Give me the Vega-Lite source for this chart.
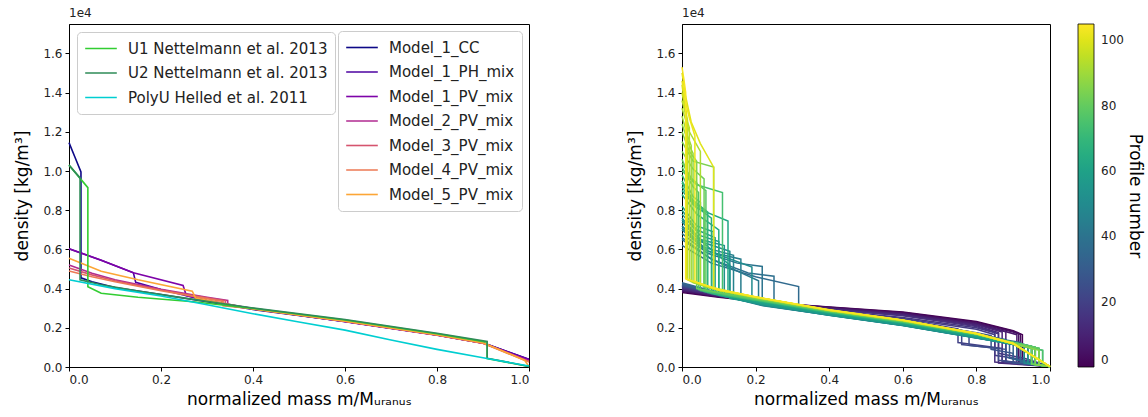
{
"$schema": "https://vega.github.io/schema/vega-lite/v6.json",
"padding": {"left": 12, "top": 6, "right": 2, "bottom": 5},
"config": {
  "font": "DejaVu Sans",
  "view": {"stroke": "black", "strokeWidth": 1},
  "axis": {"grid": false, "domainColor": "black", "tickColor": "black", "labelColor": "#222222", "labelFontSize": 12, "titleFontSize": 17, "titleFontWeight": "normal", "titleColor": "black", "tickSize": 4, "labelPadding": 3},
  "axisY": {"minExtent": 30, "maxExtent": 30, "titlePadding": 8},
  "title": {"fontSize": 12, "fontWeight": "normal", "anchor": "start", "frame": "group", "offset": 4, "color": "#222222"},
  "line": {"strokeWidth": 1.6, "clip": true}
},
"datasets": {
"models": [
{"s":"Model_1_CC","m":0,"d":11450},{"s":"Model_1_CC","m":0.013,"d":10700},{"s":"Model_1_CC","m":0.026,"d":9950},{"s":"Model_1_CC","m":0.026,"d":4550},{"s":"Model_1_CC","m":0.05,"d":4350},{"s":"Model_1_CC","m":0.1,"d":4050},{"s":"Model_1_CC","m":0.2,"d":3700},{"s":"Model_1_CC","m":0.3,"d":3330},{"s":"Model_1_CC","m":0.4,"d":2930},{"s":"Model_1_CC","m":0.6,"d":2330},{"s":"Model_1_CC","m":0.8,"d":1640},{"s":"Model_1_CC","m":0.9,"d":1230},{"s":"Model_1_CC","m":1,"d":380},
{"s":"Model_1_PH_mix","m":0,"d":6030},{"s":"Model_1_PH_mix","m":0.07,"d":5450},{"s":"Model_1_PH_mix","m":0.14,"d":4810},{"s":"Model_1_PH_mix","m":0.145,"d":4320},{"s":"Model_1_PH_mix","m":0.2,"d":3950},{"s":"Model_1_PH_mix","m":0.3,"d":3380},{"s":"Model_1_PH_mix","m":0.4,"d":2960},{"s":"Model_1_PH_mix","m":0.6,"d":2320},{"s":"Model_1_PH_mix","m":0.8,"d":1630},{"s":"Model_1_PH_mix","m":0.9,"d":1220},{"s":"Model_1_PH_mix","m":1,"d":390},
{"s":"Model_1_PV_mix","m":0,"d":6030},{"s":"Model_1_PV_mix","m":0.07,"d":5450},{"s":"Model_1_PV_mix","m":0.14,"d":4810},{"s":"Model_1_PV_mix","m":0.248,"d":4160},{"s":"Model_1_PV_mix","m":0.255,"d":3650},{"s":"Model_1_PV_mix","m":0.3,"d":3400},{"s":"Model_1_PV_mix","m":0.4,"d":2970},{"s":"Model_1_PV_mix","m":0.6,"d":2310},{"s":"Model_1_PV_mix","m":0.8,"d":1620},{"s":"Model_1_PV_mix","m":0.9,"d":1210},{"s":"Model_1_PV_mix","m":1,"d":370},
{"s":"Model_2_PV_mix","m":0,"d":5200},{"s":"Model_2_PV_mix","m":0.05,"d":4780},{"s":"Model_2_PV_mix","m":0.1,"d":4450},{"s":"Model_2_PV_mix","m":0.2,"d":3960},{"s":"Model_2_PV_mix","m":0.3,"d":3560},{"s":"Model_2_PV_mix","m":0.345,"d":3400},{"s":"Model_2_PV_mix","m":0.345,"d":3170},{"s":"Model_2_PV_mix","m":0.4,"d":2990},{"s":"Model_2_PV_mix","m":0.6,"d":2350},{"s":"Model_2_PV_mix","m":0.8,"d":1650},{"s":"Model_2_PV_mix","m":0.9,"d":1230},{"s":"Model_2_PV_mix","m":1,"d":300},
{"s":"Model_3_PV_mix","m":0,"d":5050},{"s":"Model_3_PV_mix","m":0.05,"d":4700},{"s":"Model_3_PV_mix","m":0.1,"d":4400},{"s":"Model_3_PV_mix","m":0.2,"d":3930},{"s":"Model_3_PV_mix","m":0.3,"d":3530},{"s":"Model_3_PV_mix","m":0.34,"d":3380},{"s":"Model_3_PV_mix","m":0.34,"d":3150},{"s":"Model_3_PV_mix","m":0.4,"d":2980},{"s":"Model_3_PV_mix","m":0.6,"d":2340},{"s":"Model_3_PV_mix","m":0.8,"d":1640},{"s":"Model_3_PV_mix","m":0.9,"d":1220},{"s":"Model_3_PV_mix","m":1,"d":280},
{"s":"Model_4_PV_mix","m":0,"d":4900},{"s":"Model_4_PV_mix","m":0.05,"d":4600},{"s":"Model_4_PV_mix","m":0.1,"d":4350},{"s":"Model_4_PV_mix","m":0.2,"d":3890},{"s":"Model_4_PV_mix","m":0.3,"d":3490},{"s":"Model_4_PV_mix","m":0.335,"d":3350},{"s":"Model_4_PV_mix","m":0.335,"d":3120},{"s":"Model_4_PV_mix","m":0.4,"d":2970},{"s":"Model_4_PV_mix","m":0.6,"d":2330},{"s":"Model_4_PV_mix","m":0.8,"d":1630},{"s":"Model_4_PV_mix","m":0.9,"d":1210},{"s":"Model_4_PV_mix","m":1,"d":250},
{"s":"Model_5_PV_mix","m":0,"d":5550},{"s":"Model_5_PV_mix","m":0.07,"d":4890},{"s":"Model_5_PV_mix","m":0.15,"d":4450},{"s":"Model_5_PV_mix","m":0.268,"d":3870},{"s":"Model_5_PV_mix","m":0.275,"d":3520},{"s":"Model_5_PV_mix","m":0.3,"d":3400},{"s":"Model_5_PV_mix","m":0.4,"d":2960},{"s":"Model_5_PV_mix","m":0.6,"d":2340},{"s":"Model_5_PV_mix","m":0.8,"d":1650},{"s":"Model_5_PV_mix","m":0.9,"d":1240},{"s":"Model_5_PV_mix","m":0.99,"d":350},{"s":"Model_5_PV_mix","m":1,"d":30}
],
"refs": [
{"s":"U1 Nettelmann et al. 2013","m":0,"d":10300},{"s":"U1 Nettelmann et al. 2013","m":0.041,"d":9150},{"s":"U1 Nettelmann et al. 2013","m":0.041,"d":4100},{"s":"U1 Nettelmann et al. 2013","m":0.07,"d":3760},{"s":"U1 Nettelmann et al. 2013","m":0.15,"d":3560},{"s":"U1 Nettelmann et al. 2013","m":0.27,"d":3330},{"s":"U1 Nettelmann et al. 2013","m":0.4,"d":2990},{"s":"U1 Nettelmann et al. 2013","m":0.6,"d":2400},{"s":"U1 Nettelmann et al. 2013","m":0.8,"d":1700},{"s":"U1 Nettelmann et al. 2013","m":0.909,"d":1270},{"s":"U1 Nettelmann et al. 2013","m":0.909,"d":430},{"s":"U1 Nettelmann et al. 2013","m":1,"d":30},
{"s":"U2 Nettelmann et al. 2013","m":0,"d":10300},{"s":"U2 Nettelmann et al. 2013","m":0.024,"d":9650},{"s":"U2 Nettelmann et al. 2013","m":0.024,"d":4450},{"s":"U2 Nettelmann et al. 2013","m":0.07,"d":4200},{"s":"U2 Nettelmann et al. 2013","m":0.15,"d":3870},{"s":"U2 Nettelmann et al. 2013","m":0.27,"d":3450},{"s":"U2 Nettelmann et al. 2013","m":0.4,"d":3010},{"s":"U2 Nettelmann et al. 2013","m":0.6,"d":2420},{"s":"U2 Nettelmann et al. 2013","m":0.8,"d":1720},{"s":"U2 Nettelmann et al. 2013","m":0.909,"d":1300},{"s":"U2 Nettelmann et al. 2013","m":0.909,"d":450},{"s":"U2 Nettelmann et al. 2013","m":1,"d":30},
{"s":"PolyU Helled et al. 2011","m":0,"d":4450},{"s":"PolyU Helled et al. 2011","m":0.1,"d":4000},{"s":"PolyU Helled et al. 2011","m":0.2,"d":3620},{"s":"PolyU Helled et al. 2011","m":0.3,"d":3180},{"s":"PolyU Helled et al. 2011","m":0.4,"d":2720},{"s":"PolyU Helled et al. 2011","m":0.5,"d":2300},{"s":"PolyU Helled et al. 2011","m":0.6,"d":1880},{"s":"PolyU Helled et al. 2011","m":0.7,"d":1380},{"s":"PolyU Helled et al. 2011","m":0.8,"d":900},{"s":"PolyU Helled et al. 2011","m":0.9,"d":470},{"s":"PolyU Helled et al. 2011","m":1,"d":50}
],
"profiles": [
{"p":0,"m":0,"d":3800},{"p":0,"m":0.1,"d":3560},{"p":0,"m":0.25,"d":3260},{"p":0,"m":0.4,"d":3060},{"p":0,"m":0.6,"d":2800},{"p":0,"m":0.8,"d":2320},{"p":0,"m":0.9,"d":1850},{"p":0,"m":0.925,"d":1650},{"p":0,"m":0.925,"d":300},{"p":0,"m":1,"d":30},
{"p":2,"m":0,"d":3850},{"p":2,"m":0.1,"d":3580},{"p":2,"m":0.25,"d":3270},{"p":2,"m":0.4,"d":3050},{"p":2,"m":0.6,"d":2780},{"p":2,"m":0.8,"d":2290},{"p":2,"m":0.9,"d":1820},{"p":2,"m":0.92,"d":1660},{"p":2,"m":0.92,"d":250},{"p":2,"m":1,"d":30},
{"p":4,"m":0,"d":3880},{"p":4,"m":0.1,"d":3600},{"p":4,"m":0.25,"d":3260},{"p":4,"m":0.4,"d":3030},{"p":4,"m":0.6,"d":2750},{"p":4,"m":0.8,"d":2250},{"p":4,"m":0.9,"d":1780},{"p":4,"m":0.915,"d":1690},{"p":4,"m":0.915,"d":280},{"p":4,"m":1,"d":30},
{"p":6,"m":0,"d":3900},{"p":6,"m":0.1,"d":3610},{"p":6,"m":0.25,"d":3250},{"p":6,"m":0.4,"d":3010},{"p":6,"m":0.6,"d":2720},{"p":6,"m":0.8,"d":2220},{"p":6,"m":0.91,"d":1650},{"p":6,"m":0.91,"d":220},{"p":6,"m":1,"d":30},
{"p":8,"m":0,"d":3920},{"p":8,"m":0.1,"d":3620},{"p":8,"m":0.25,"d":3240},{"p":8,"m":0.4,"d":2990},{"p":8,"m":0.6,"d":2700},{"p":8,"m":0.8,"d":2180},{"p":8,"m":0.88,"d":1800},{"p":8,"m":0.88,"d":250},{"p":8,"m":1,"d":30},
{"p":10,"m":0,"d":3950},{"p":10,"m":0.1,"d":3640},{"p":10,"m":0.25,"d":3230},{"p":10,"m":0.4,"d":2970},{"p":10,"m":0.6,"d":2670},{"p":10,"m":0.8,"d":2150},{"p":10,"m":0.87,"d":1780},{"p":10,"m":0.87,"d":300},{"p":10,"m":1,"d":30},
{"p":12,"m":0,"d":3980},{"p":12,"m":0.1,"d":3650},{"p":12,"m":0.25,"d":3220},{"p":12,"m":0.4,"d":2950},{"p":12,"m":0.6,"d":2640},{"p":12,"m":0.8,"d":2100},{"p":12,"m":0.86,"d":1760},{"p":12,"m":0.86,"d":200},{"p":12,"m":1,"d":30},
{"p":14,"m":0,"d":4000},{"p":14,"m":0.1,"d":3660},{"p":14,"m":0.25,"d":3210},{"p":14,"m":0.4,"d":2930},{"p":14,"m":0.6,"d":2610},{"p":14,"m":0.8,"d":2060},{"p":14,"m":0.85,"d":1770},{"p":14,"m":0.85,"d":250},{"p":14,"m":1,"d":30},
{"p":16,"m":0,"d":4050},{"p":16,"m":0.1,"d":3690},{"p":16,"m":0.25,"d":3190},{"p":16,"m":0.4,"d":2880},{"p":16,"m":0.6,"d":2520},{"p":16,"m":0.8,"d":2000},{"p":16,"m":0.86,"d":1700},{"p":16,"m":0.86,"d":700},{"p":16,"m":0.93,"d":450},{"p":16,"m":1,"d":30},
{"p":18,"m":0,"d":4080},{"p":18,"m":0.1,"d":3700},{"p":18,"m":0.25,"d":3180},{"p":18,"m":0.4,"d":2860},{"p":18,"m":0.6,"d":2480},{"p":18,"m":0.8,"d":1930},{"p":18,"m":0.85,"d":1650},{"p":18,"m":0.85,"d":600},{"p":18,"m":0.92,"d":400},{"p":18,"m":1,"d":30},
{"p":20,"m":0,"d":4100},{"p":20,"m":0.1,"d":3710},{"p":20,"m":0.25,"d":3170},{"p":20,"m":0.4,"d":2840},{"p":20,"m":0.6,"d":2440},{"p":20,"m":0.75,"d":1950},{"p":20,"m":0.75,"d":1250},{"p":20,"m":0.87,"d":950},{"p":20,"m":0.87,"d":300},{"p":20,"m":1,"d":30},
{"p":22,"m":0,"d":4120},{"p":22,"m":0.1,"d":3720},{"p":22,"m":0.25,"d":3160},{"p":22,"m":0.4,"d":2820},{"p":22,"m":0.6,"d":2400},{"p":22,"m":0.76,"d":1850},{"p":22,"m":0.76,"d":1150},{"p":22,"m":0.88,"d":900},{"p":22,"m":0.88,"d":250},{"p":22,"m":1,"d":30},
{"p":24,"m":0,"d":4140},{"p":24,"m":0.1,"d":3730},{"p":24,"m":0.25,"d":3150},{"p":24,"m":0.4,"d":2800},{"p":24,"m":0.6,"d":2370},{"p":24,"m":0.78,"d":1800},{"p":24,"m":0.78,"d":1100},{"p":24,"m":0.86,"d":950},{"p":24,"m":0.86,"d":350},{"p":24,"m":1,"d":30},
{"p":26,"m":0,"d":4160},{"p":26,"m":0.1,"d":3740},{"p":26,"m":0.25,"d":3140},{"p":26,"m":0.4,"d":2780},{"p":26,"m":0.6,"d":2340},{"p":26,"m":0.8,"d":1750},{"p":26,"m":0.84,"d":1600},{"p":26,"m":0.84,"d":900},{"p":26,"m":0.9,"d":700},{"p":26,"m":0.9,"d":200},{"p":26,"m":1,"d":30},
{"p":28,"m":0,"d":4180},{"p":28,"m":0.1,"d":3750},{"p":28,"m":0.25,"d":3130},{"p":28,"m":0.4,"d":2760},{"p":28,"m":0.6,"d":2310},{"p":28,"m":0.8,"d":1700},{"p":28,"m":0.88,"d":1400},{"p":28,"m":0.88,"d":500},{"p":28,"m":1,"d":30},
{"p":30,"m":0,"d":4200},{"p":30,"m":0.1,"d":3760},{"p":30,"m":0.25,"d":3120},{"p":30,"m":0.4,"d":2740},{"p":30,"m":0.6,"d":2280},{"p":30,"m":0.8,"d":1650},{"p":30,"m":0.89,"d":1300},{"p":30,"m":0.89,"d":450},{"p":30,"m":1,"d":30},
{"p":32,"m":0,"d":4250},{"p":32,"m":0.1,"d":3780},{"p":32,"m":0.25,"d":3110},{"p":32,"m":0.4,"d":2720},{"p":32,"m":0.6,"d":2250},{"p":32,"m":0.8,"d":1600},{"p":32,"m":0.9,"d":1200},{"p":32,"m":0.9,"d":400},{"p":32,"m":1,"d":30},
{"p":34,"m":0,"d":4300},{"p":34,"m":0.1,"d":3790},{"p":34,"m":0.25,"d":3100},{"p":34,"m":0.4,"d":2700},{"p":34,"m":0.6,"d":2220},{"p":34,"m":0.8,"d":1560},{"p":34,"m":0.91,"d":1150},{"p":34,"m":0.91,"d":350},{"p":34,"m":1,"d":30},
{"p":36,"m":0,"d":6200},{"p":36,"m":0.08,"d":5300},{"p":36,"m":0.2,"d":4600},{"p":36,"m":0.317,"d":4100},{"p":36,"m":0.317,"d":3150},{"p":36,"m":0.4,"d":2800},{"p":36,"m":0.6,"d":2250},{"p":36,"m":0.8,"d":1620},{"p":36,"m":0.92,"d":1250},{"p":36,"m":0.92,"d":250},{"p":36,"m":1,"d":20},
{"p":38,"m":0,"d":6500},{"p":38,"m":0.08,"d":5500},{"p":38,"m":0.18,"d":4800},{"p":38,"m":0.25,"d":4630},{"p":38,"m":0.25,"d":3300},{"p":38,"m":0.4,"d":2750},{"p":38,"m":0.6,"d":2220},{"p":38,"m":0.8,"d":1580},{"p":38,"m":0.93,"d":1150},{"p":38,"m":0.93,"d":200},{"p":38,"m":1,"d":20},
{"p":40,"m":0,"d":6800},{"p":40,"m":0.07,"d":5800},{"p":40,"m":0.15,"d":5300},{"p":40,"m":0.218,"d":5130},{"p":40,"m":0.218,"d":3400},{"p":40,"m":0.4,"d":2700},{"p":40,"m":0.6,"d":2180},{"p":40,"m":0.8,"d":1540},{"p":40,"m":0.94,"d":1100},{"p":40,"m":0.94,"d":200},{"p":40,"m":1,"d":20},
{"p":42,"m":0,"d":6600},{"p":42,"m":0.08,"d":5500},{"p":42,"m":0.208,"d":4400},{"p":42,"m":0.208,"d":3350},{"p":42,"m":0.4,"d":2680},{"p":42,"m":0.6,"d":2160},{"p":42,"m":0.8,"d":1520},{"p":42,"m":0.95,"d":1050},{"p":42,"m":0.95,"d":150},{"p":42,"m":1,"d":20},
{"p":44,"m":0,"d":7000},{"p":44,"m":0.07,"d":5900},{"p":44,"m":0.16,"d":5500},{"p":44,"m":0.16,"d":3450},{"p":44,"m":0.22,"d":3150},{"p":44,"m":0.4,"d":2660},{"p":44,"m":0.6,"d":2140},{"p":44,"m":0.8,"d":1500},{"p":44,"m":0.96,"d":950},{"p":44,"m":0.96,"d":120},{"p":44,"m":1,"d":20},
{"p":46,"m":0,"d":7200},{"p":46,"m":0.06,"d":6100},{"p":46,"m":0.14,"d":5700},{"p":46,"m":0.14,"d":3500},{"p":46,"m":0.22,"d":3130},{"p":46,"m":0.4,"d":2650},{"p":46,"m":0.6,"d":2130},{"p":46,"m":0.8,"d":1490},{"p":46,"m":0.97,"d":900},{"p":46,"m":0.97,"d":100},{"p":46,"m":1,"d":20},
{"p":48,"m":0,"d":7400},{"p":48,"m":0.05,"d":6400},{"p":48,"m":0.13,"d":5900},{"p":48,"m":0.13,"d":3550},{"p":48,"m":0.22,"d":3150},{"p":48,"m":0.4,"d":2640},{"p":48,"m":0.6,"d":2120},{"p":48,"m":0.8,"d":1480},{"p":48,"m":0.93,"d":1100},{"p":48,"m":0.93,"d":200},{"p":48,"m":1,"d":20},
{"p":50,"m":0,"d":7100},{"p":50,"m":0.06,"d":6000},{"p":50,"m":0.19,"d":5100},{"p":50,"m":0.19,"d":3400},{"p":50,"m":0.4,"d":2650},{"p":50,"m":0.6,"d":2130},{"p":50,"m":0.8,"d":1490},{"p":50,"m":0.95,"d":1000},{"p":50,"m":0.95,"d":150},{"p":50,"m":1,"d":20},
{"p":52,"m":0,"d":7600},{"p":52,"m":0.05,"d":6500},{"p":52,"m":0.115,"d":6200},{"p":52,"m":0.115,"d":3600},{"p":52,"m":0.22,"d":3170},{"p":52,"m":0.4,"d":2640},{"p":52,"m":0.6,"d":2120},{"p":52,"m":0.8,"d":1480},{"p":52,"m":0.96,"d":950},{"p":52,"m":0.96,"d":120},{"p":52,"m":1,"d":20},
{"p":54,"m":0,"d":7800},{"p":54,"m":0.05,"d":6700},{"p":54,"m":0.1,"d":6400},{"p":54,"m":0.1,"d":3650},{"p":54,"m":0.22,"d":3190},{"p":54,"m":0.4,"d":2660},{"p":54,"m":0.6,"d":2140},{"p":54,"m":0.8,"d":1500},{"p":54,"m":0.94,"d":1050},{"p":54,"m":0.94,"d":180},{"p":54,"m":1,"d":20},
{"p":56,"m":0,"d":7500},{"p":56,"m":0.06,"d":6300},{"p":56,"m":0.13,"d":5200},{"p":56,"m":0.13,"d":3500},{"p":56,"m":0.22,"d":3200},{"p":56,"m":0.4,"d":2680},{"p":56,"m":0.6,"d":2160},{"p":56,"m":0.8,"d":1520},{"p":56,"m":0.97,"d":900},{"p":56,"m":0.97,"d":100},{"p":56,"m":1,"d":20},
{"p":58,"m":0,"d":8000},{"p":58,"m":0.04,"d":7000},{"p":58,"m":0.09,"d":6600},{"p":58,"m":0.09,"d":3700},{"p":58,"m":0.22,"d":3230},{"p":58,"m":0.4,"d":2700},{"p":58,"m":0.6,"d":2180},{"p":58,"m":0.8,"d":1540},{"p":58,"m":0.95,"d":1000},{"p":58,"m":0.95,"d":150},{"p":58,"m":1,"d":20},
{"p":60,"m":0,"d":8200},{"p":60,"m":0.04,"d":7200},{"p":60,"m":0.085,"d":6900},{"p":60,"m":0.085,"d":3750},{"p":60,"m":0.22,"d":3250},{"p":60,"m":0.4,"d":2720},{"p":60,"m":0.6,"d":2200},{"p":60,"m":0.8,"d":1560},{"p":60,"m":0.96,"d":950},{"p":60,"m":0.96,"d":130},{"p":60,"m":1,"d":20},
{"p":62,"m":0,"d":9000},{"p":62,"m":0.04,"d":8100},{"p":62,"m":0.125,"d":7450},{"p":62,"m":0.125,"d":3650},{"p":62,"m":0.2,"d":3350},{"p":62,"m":0.4,"d":2760},{"p":62,"m":0.6,"d":2240},{"p":62,"m":0.8,"d":1600},{"p":62,"m":0.96,"d":1000},{"p":62,"m":0.96,"d":120},{"p":62,"m":1,"d":20},
{"p":64,"m":0,"d":8800},{"p":64,"m":0.04,"d":7800},{"p":64,"m":0.1,"d":7000},{"p":64,"m":0.1,"d":3700},{"p":64,"m":0.2,"d":3380},{"p":64,"m":0.4,"d":2770},{"p":64,"m":0.6,"d":2250},{"p":64,"m":0.8,"d":1610},{"p":64,"m":0.97,"d":950},{"p":64,"m":0.97,"d":100},{"p":64,"m":1,"d":20},
{"p":66,"m":0,"d":9200},{"p":66,"m":0.03,"d":8300},{"p":66,"m":0.08,"d":7600},{"p":66,"m":0.08,"d":3750},{"p":66,"m":0.2,"d":3400},{"p":66,"m":0.4,"d":2780},{"p":66,"m":0.6,"d":2260},{"p":66,"m":0.8,"d":1620},{"p":66,"m":0.95,"d":1050},{"p":66,"m":0.95,"d":150},{"p":66,"m":1,"d":20},
{"p":68,"m":0,"d":9500},{"p":68,"m":0.03,"d":8500},{"p":68,"m":0.07,"d":7900},{"p":68,"m":0.07,"d":3800},{"p":68,"m":0.2,"d":3410},{"p":68,"m":0.4,"d":2790},{"p":68,"m":0.6,"d":2270},{"p":68,"m":0.8,"d":1630},{"p":68,"m":0.98,"d":850},{"p":68,"m":0.98,"d":80},{"p":68,"m":1,"d":20},
{"p":70,"m":0,"d":9400},{"p":70,"m":0.03,"d":8400},{"p":70,"m":0.06,"d":8000},{"p":70,"m":0.06,"d":3850},{"p":70,"m":0.2,"d":3420},{"p":70,"m":0.4,"d":2800},{"p":70,"m":0.6,"d":2280},{"p":70,"m":0.8,"d":1640},{"p":70,"m":0.96,"d":1000},{"p":70,"m":0.96,"d":120},{"p":70,"m":1,"d":20},
{"p":72,"m":0,"d":9800},{"p":72,"m":0.03,"d":8700},{"p":72,"m":0.05,"d":8400},{"p":72,"m":0.05,"d":3900},{"p":72,"m":0.2,"d":3430},{"p":72,"m":0.4,"d":2810},{"p":72,"m":0.6,"d":2290},{"p":72,"m":0.8,"d":1650},{"p":72,"m":0.97,"d":950},{"p":72,"m":0.97,"d":100},{"p":72,"m":1,"d":20},
{"p":74,"m":0,"d":10000},{"p":74,"m":0.04,"d":9300},{"p":74,"m":0.11,"d":8900},{"p":74,"m":0.11,"d":3700},{"p":74,"m":0.2,"d":3420},{"p":74,"m":0.4,"d":2820},{"p":74,"m":0.6,"d":2300},{"p":74,"m":0.8,"d":1660},{"p":74,"m":0.95,"d":1050},{"p":74,"m":0.95,"d":150},{"p":74,"m":1,"d":20},
{"p":76,"m":0,"d":10200},{"p":76,"m":0.03,"d":9200},{"p":76,"m":0.045,"d":8900},{"p":76,"m":0.045,"d":3950},{"p":76,"m":0.2,"d":3450},{"p":76,"m":0.4,"d":2830},{"p":76,"m":0.6,"d":2310},{"p":76,"m":0.8,"d":1670},{"p":76,"m":0.98,"d":850},{"p":76,"m":0.98,"d":80},{"p":76,"m":1,"d":20},
{"p":78,"m":0,"d":10400},{"p":78,"m":0.03,"d":9500},{"p":78,"m":0.065,"d":9000},{"p":78,"m":0.065,"d":3900},{"p":78,"m":0.2,"d":3460},{"p":78,"m":0.4,"d":2840},{"p":78,"m":0.6,"d":2320},{"p":78,"m":0.8,"d":1680},{"p":78,"m":0.96,"d":1000},{"p":78,"m":0.96,"d":120},{"p":78,"m":1,"d":20},
{"p":80,"m":0,"d":10600},{"p":80,"m":0.02,"d":9700},{"p":80,"m":0.04,"d":9400},{"p":80,"m":0.04,"d":4000},{"p":80,"m":0.2,"d":3470},{"p":80,"m":0.4,"d":2850},{"p":80,"m":0.6,"d":2330},{"p":80,"m":0.8,"d":1690},{"p":80,"m":0.97,"d":950},{"p":80,"m":0.97,"d":100},{"p":80,"m":1,"d":20},
{"p":82,"m":0,"d":11000},{"p":82,"m":0.03,"d":10100},{"p":82,"m":0.06,"d":9600},{"p":82,"m":0.06,"d":4100},{"p":82,"m":0.2,"d":3500},{"p":82,"m":0.4,"d":2860},{"p":82,"m":0.6,"d":2340},{"p":82,"m":0.8,"d":1700},{"p":82,"m":0.95,"d":950},{"p":82,"m":0.95,"d":150},{"p":82,"m":1,"d":20},
{"p":84,"m":0,"d":11500},{"p":84,"m":0.03,"d":10500},{"p":84,"m":0.086,"d":10200},{"p":84,"m":0.086,"d":4000},{"p":84,"m":0.2,"d":3510},{"p":84,"m":0.4,"d":2870},{"p":84,"m":0.6,"d":2350},{"p":84,"m":0.8,"d":1690},{"p":84,"m":0.96,"d":900},{"p":84,"m":0.96,"d":120},{"p":84,"m":1,"d":20},
{"p":86,"m":0,"d":12000},{"p":86,"m":0.02,"d":11000},{"p":86,"m":0.04,"d":10500},{"p":86,"m":0.04,"d":4250},{"p":86,"m":0.1,"d":3920},{"p":86,"m":0.2,"d":3530},{"p":86,"m":0.4,"d":2880},{"p":86,"m":0.6,"d":2360},{"p":86,"m":0.8,"d":1690},{"p":86,"m":0.97,"d":850},{"p":86,"m":0.97,"d":100},{"p":86,"m":1,"d":20},
{"p":88,"m":0,"d":12400},{"p":88,"m":0.02,"d":11300},{"p":88,"m":0.03,"d":10900},{"p":88,"m":0.03,"d":4300},{"p":88,"m":0.1,"d":3900},{"p":88,"m":0.2,"d":3540},{"p":88,"m":0.4,"d":2880},{"p":88,"m":0.6,"d":2360},{"p":88,"m":0.8,"d":1680},{"p":88,"m":0.9,"d":1180},{"p":88,"m":1,"d":20},
{"p":90,"m":0,"d":12800},{"p":90,"m":0.015,"d":11800},{"p":90,"m":0.025,"d":11300},{"p":90,"m":0.025,"d":4350},{"p":90,"m":0.1,"d":3910},{"p":90,"m":0.2,"d":3550},{"p":90,"m":0.4,"d":2890},{"p":90,"m":0.6,"d":2370},{"p":90,"m":0.8,"d":1690},{"p":90,"m":0.9,"d":1190},{"p":90,"m":1,"d":20},
{"p":92,"m":0,"d":13200},{"p":92,"m":0.02,"d":12000},{"p":92,"m":0.05,"d":11000},{"p":92,"m":0.05,"d":4200},{"p":92,"m":0.1,"d":3930},{"p":92,"m":0.2,"d":3560},{"p":92,"m":0.4,"d":2890},{"p":92,"m":0.6,"d":2370},{"p":92,"m":0.8,"d":1690},{"p":92,"m":0.9,"d":1180},{"p":92,"m":1,"d":20},
{"p":94,"m":0,"d":13600},{"p":94,"m":0.015,"d":12500},{"p":94,"m":0.02,"d":12200},{"p":94,"m":0.02,"d":4400},{"p":94,"m":0.1,"d":3920},{"p":94,"m":0.2,"d":3560},{"p":94,"m":0.4,"d":2900},{"p":94,"m":0.6,"d":2380},{"p":94,"m":0.8,"d":1700},{"p":94,"m":0.9,"d":1190},{"p":94,"m":1,"d":20},
{"p":96,"m":0,"d":14000},{"p":96,"m":0.01,"d":13000},{"p":96,"m":0.015,"d":12600},{"p":96,"m":0.015,"d":4450},{"p":96,"m":0.1,"d":3930},{"p":96,"m":0.2,"d":3570},{"p":96,"m":0.4,"d":2900},{"p":96,"m":0.6,"d":2380},{"p":96,"m":0.8,"d":1700},{"p":96,"m":0.9,"d":1190},{"p":96,"m":1,"d":20},
{"p":98,"m":0,"d":14400},{"p":98,"m":0.008,"d":13300},{"p":98,"m":0.012,"d":13000},{"p":98,"m":0.012,"d":4480},{"p":98,"m":0.1,"d":3940},{"p":98,"m":0.2,"d":3570},{"p":98,"m":0.4,"d":2910},{"p":98,"m":0.6,"d":2390},{"p":98,"m":0.8,"d":1710},{"p":98,"m":0.9,"d":1200},{"p":98,"m":1,"d":20},
{"p":100,"m":0,"d":15000},{"p":100,"m":0.01,"d":13800},{"p":100,"m":0.025,"d":12500},{"p":100,"m":0.05,"d":11400},{"p":100,"m":0.086,"d":10200},{"p":100,"m":0.086,"d":4050},{"p":100,"m":0.2,"d":3560},{"p":100,"m":0.4,"d":2900},{"p":100,"m":0.6,"d":2380},{"p":100,"m":0.8,"d":1700},{"p":100,"m":0.9,"d":1190},{"p":100,"m":1,"d":20},
{"p":102,"m":0,"d":14600},{"p":102,"m":0.01,"d":13500},{"p":102,"m":0.02,"d":12700},{"p":102,"m":0.035,"d":11800},{"p":102,"m":0.035,"d":4350},{"p":102,"m":0.1,"d":3930},{"p":102,"m":0.2,"d":3570},{"p":102,"m":0.4,"d":2910},{"p":102,"m":0.6,"d":2390},{"p":102,"m":0.8,"d":1710},{"p":102,"m":0.9,"d":1200},{"p":102,"m":1,"d":20},
{"p":104,"m":0,"d":15300},{"p":104,"m":0.005,"d":14700},{"p":104,"m":0.01,"d":14000},{"p":104,"m":0.01,"d":4500},{"p":104,"m":0.1,"d":3950},{"p":104,"m":0.2,"d":3580},{"p":104,"m":0.4,"d":2920},{"p":104,"m":0.6,"d":2400},{"p":104,"m":0.8,"d":1720},{"p":104,"m":0.9,"d":1210},{"p":104,"m":1,"d":20}
]
},
"spacing": 92,
"hconcat": [
{
  "width": 460, "height": 343,
  "title": {"text": "1e4"},
  "encoding": {
    "x": {"field": "m", "type": "quantitative", "scale": {"domain": [0, 1], "nice": false}, "axis": {"values": [0, 0.2, 0.4, 0.6, 0.8, 1.0], "format": ".1f", "title": "normalized mass m/Mᵤᵣₐₙᵤₛ", "titlePadding": 6}},
    "y": {"field": "d", "type": "quantitative", "scale": {"domain": [0, 17500], "nice": false}, "axis": {"values": [0, 2000, 4000, 6000, 8000, 10000, 12000, 14000, 16000], "labelExpr": "format(datum.value / 10000, '.1f')", "title": "density  [kg/m³]"}},
    "order": {"value": null}
  },
  "layer": [
    {"data": {"name": "models"}, "mark": {"type": "line"},
     "encoding": {"color": {"field": "s", "type": "nominal", "sort": null,
       "scale": {"domain": ["Model_1_CC", "Model_1_PH_mix", "Model_1_PV_mix", "Model_2_PV_mix", "Model_3_PV_mix", "Model_4_PV_mix", "Model_5_PV_mix"], "range": ["#0d0887", "#4c02a1", "#7e03a8", "#b12a90", "#d5546e", "#ed7953", "#fca636"]},
       "legend": {"orient": "top-right", "offset": 7, "title": null, "symbolType": "stroke", "symbolSize": 1000, "symbolStrokeWidth": 2, "labelFontSize": 15, "labelLimit": 400, "labelOffset": 10, "labelColor": "#222222", "clipHeight": 19, "rowPadding": 5.5, "padding": 7, "fillColor": "white", "strokeColor": "#cccccc", "cornerRadius": 4}}}},
    {"data": {"name": "refs"}, "mark": {"type": "line"},
     "encoding": {"color": {"field": "s", "type": "nominal", "sort": null,
       "scale": {"domain": ["U1 Nettelmann et al. 2013", "U2 Nettelmann et al. 2013", "PolyU Helled et al. 2011"], "range": ["#32cd32", "#2e8b57", "#00ced1"]},
       "legend": {"orient": "top-left", "offset": 8, "title": null, "symbolType": "stroke", "symbolSize": 1000, "symbolStrokeWidth": 2, "labelFontSize": 15, "labelLimit": 400, "labelOffset": 10, "labelColor": "#222222", "clipHeight": 19, "rowPadding": 5.5, "padding": 7, "fillColor": "white", "strokeColor": "#cccccc", "cornerRadius": 4}}}}
  ],
  "resolve": {"scale": {"color": "independent"}, "legend": {"color": "independent"}}
},
{
  "width": 368, "height": 343,
  "title": {"text": "1e4"},
  "data": {"name": "profiles"},
  "mark": {"type": "line", "strokeWidth": 1.5},
  "encoding": {
    "x": {"field": "m", "type": "quantitative", "scale": {"domain": [0, 1], "nice": false}, "axis": {"values": [0, 0.2, 0.4, 0.6, 0.8, 1.0], "format": ".1f", "title": "normalized mass m/Mᵤᵣₐₙᵤₛ", "titlePadding": 6}},
    "y": {"field": "d", "type": "quantitative", "scale": {"domain": [0, 17500], "nice": false}, "axis": {"values": [0, 2000, 4000, 6000, 8000, 10000, 12000, 14000, 16000], "labelExpr": "format(datum.value / 10000, '.1f')", "title": "density  [kg/m³]"}},
    "color": {"field": "p", "type": "quantitative", "scale": {"scheme": "viridis", "domain": [0, 105]},
      "legend": {"orient": "right", "offset": 24, "gradientLength": 343, "gradientThickness": 16, "gradientStrokeColor": "black", "gradientStrokeWidth": 0.8, "values": [0, 20, 40, 60, 80, 100], "labelFontSize": 12, "labelColor": "#222222", "labelOffset": 7, "labelBaseline": "middle", "title": "Profile number", "titleOrient": "right", "titleAngle": 270, "titleFontSize": 17, "titleFontWeight": "normal", "titleColor": "black", "titleAnchor": "middle", "titlePadding": 2}},
    "detail": {"field": "p", "type": "nominal"},
    "order": {"value": null}
  }
}
]
}
